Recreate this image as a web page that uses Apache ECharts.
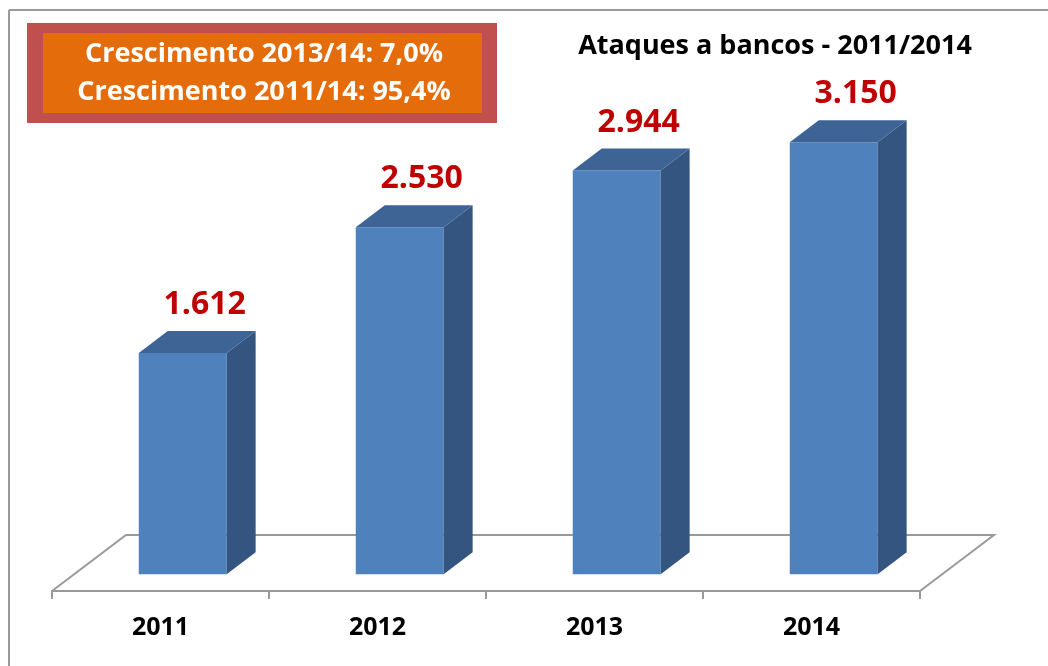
<!DOCTYPE html>
<html>
<head>
<meta charset="utf-8">
<script src="https://cdn.jsdelivr.net/npm/echarts@6/dist/echarts.min.js"></script>
<style>
  html, body { margin: 0; padding: 0; background: #fff; }
  #chart { width: 1048px; height: 666px; }
</style>
</head>
<body>
<div id="chart"></div>
<script>
// dados
const years = ['2011', '2012', '2013', '2014']
const ataques = [1612, 2530, 2944, 3150]
const notes = ['Crescimento 2013/14: 7,0%', 'Crescimento 2011/14: 95,4%']
const chartTitle = 'Ataques a bancos - 2011/2014'

// perspectiva 3D (px)
const FLOOR_DX = 74, FLOOR_DY = -56
const BAR_POS = 0.3
const BAR_DX = 29, BAR_DY = -22
const FONT = '"Open Sans", "DejaVu Sans", sans-serif'

function fmt(v) {
  return String(v).replace(/\B(?=(\d{3})+(?!\d))/g, '.')
}

function renderFloor(params, api) {
  const first = api.coord([0, 0])
  const last = api.coord([years.length - 1, 0])
  const bw = api.size([1, 0])[0]
  const xl = first[0] - bw / 2, xr = last[0] + bw / 2, y = first[1]
  return {
    type: 'polyline',
    shape: { points: [[xl, y], [xl + FLOOR_DX, y + FLOOR_DY], [xr + FLOOR_DX, y + FLOOR_DY], [xr, y]] },
    style: { stroke: '#9a9a9a', lineWidth: 2, fill: null }
  }
}

function renderBar(params, api) {
  const i = api.value(0)
  const v = api.value(1)
  const top = api.coord([i, v])
  const base = api.coord([i, 0])
  const bw = api.size([1, 0])[0] * 0.405
  const ox = FLOOR_DX * BAR_POS, oy = FLOOR_DY * BAR_POS
  const x0 = top[0] - bw / 2 + ox, x1 = x0 + bw
  const yt = top[1] + oy, yb = base[1] + oy
  return {
    type: 'group',
    children: [
      { type: 'polygon', shape: { points: [[x0, yt], [x1, yt], [x1, yb], [x0, yb]] }, style: { fill: '#4F81BD' } },
      { type: 'polygon', shape: { points: [[x1, yt], [x1 + BAR_DX, yt + BAR_DY], [x1 + BAR_DX, yb + BAR_DY], [x1, yb]] }, style: { fill: '#34557F' } },
      { type: 'polygon', shape: { points: [[x0, yt], [x0 + BAR_DX, yt + BAR_DY], [x1 + BAR_DX, yt + BAR_DY], [x1, yt]] }, style: { fill: '#3D6494' } },
      {
        type: 'text',
        style: {
          text: fmt(v), x: (x0 + x1) / 2 + 22, y: yt - 48,
          align: 'center', verticalAlign: 'middle',
          fill: '#C00000', font: 'bold 32px ' + FONT
        }
      }
    ]
  }
}

const chart = echarts.init(document.getElementById('chart'), null, { renderer: 'canvas' })

chart.setOption({
  animation: false,
  title: {
    text: chartTitle,
    left: 770,
    textAlign: 'center',
    top: 28,
    textStyle: { fontFamily: FONT, fontWeight: 'bold', fontSize: 27, color: '#000' }
  },
  grid: { left: 52, right: 128, bottom: 75, top: 42.4 },
  xAxis: {
    type: 'category',
    data: years,
    axisLine: { lineStyle: { color: '#9a9a9a', width: 2 } },
    axisTick: { show: true, length: 8, lineStyle: { color: '#9a9a9a', width: 2 } },
    axisLabel: { margin: 24, color: '#000', fontFamily: FONT, fontWeight: 'bold', fontSize: 25 }
  },
  yAxis: {
    type: 'value', min: 0, max: 4000, show: false,
    splitLine: { show: false }
  },
  graphic: [
    { type: 'line', shape: { x1: 9, y1: 10, x2: 1048, y2: 10 }, style: { stroke: '#9a9a9a', lineWidth: 2 } },
    { type: 'line', shape: { x1: 9, y1: 10, x2: 9, y2: 666 }, style: { stroke: '#9a9a9a', lineWidth: 2 } },
    { type: 'rect', shape: { x: 27, y: 23, width: 470, height: 100 }, style: { fill: '#C0504D' } },
    { type: 'rect', shape: { x: 43, y: 33, width: 439, height: 80 }, style: { fill: '#E46C0A' } },
    {
      type: 'text',
      style: {
        text: notes.join('\n'), x: 264, y: 73, align: 'center', verticalAlign: 'middle',
        lineHeight: 38, fill: '#fff', font: 'bold 27px ' + FONT
      }
    }
  ],
  series: [
    { type: 'custom', z: 1, renderItem: renderFloor, data: [[0, 0]], silent: true },
    {
      type: 'custom', z: 2,
      renderItem: renderBar,
      encode: { x: 0, y: 1 },
      data: ataques.map((v, i) => [i, v])
    }
  ]
})
</script>
</body>
</html>
